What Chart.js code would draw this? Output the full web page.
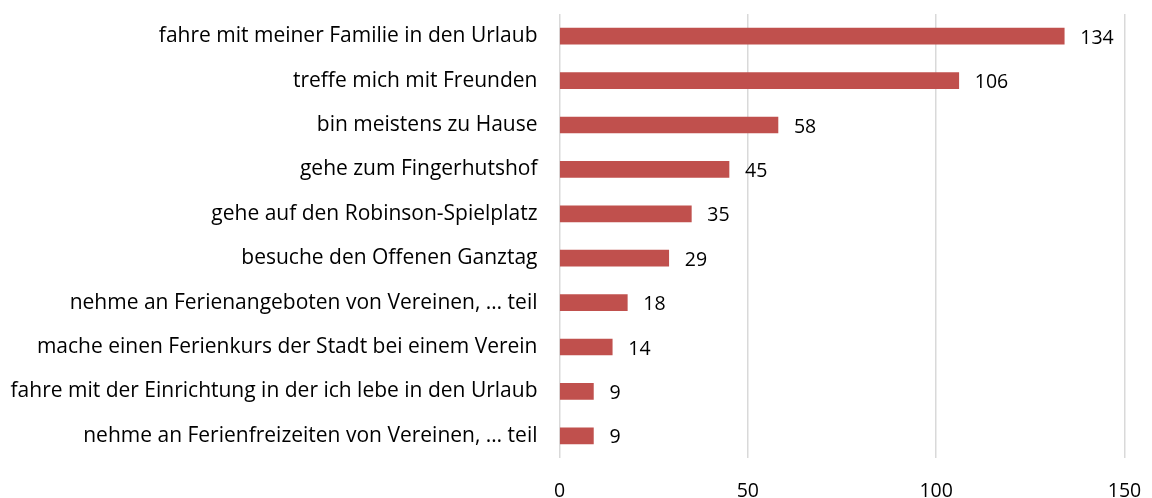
<!DOCTYPE html>
<html>
<head>
<meta charset="utf-8">
<script src="https://cdn.jsdelivr.net/npm/chart.js@4/dist/chart.umd.min.js"></script>
<style>
  html, body { margin: 0; padding: 0; background: #fff; }
  #wrap { width: 1152px; height: 498px; }
</style>
</head>
<body>
<div id="wrap"><canvas id="chart"></canvas></div>
<script>
// Antworten, sortiert nach Anzahl
const categories = [
    'fahre mit meiner Familie in den Urlaub',
    'treffe mich mit Freunden',
    'bin meistens zu Hause',
    'gehe zum Fingerhutshof',
    'gehe auf den Robinson-Spielplatz',
    'besuche den Offenen Ganztag',
    'nehme an Ferienangeboten von Vereinen, … teil',
    'mache einen Ferienkurs der Stadt bei einem Verein',
    'fahre mit der Einrichtung in der ich lebe in den Urlaub',
    'nehme an Ferienfreizeiten von Vereinen, … teil'
];
const counts = [134, 106, 58, 45, 35, 29, 18, 14, 9, 9];
const xTicks = [0, 50, 100, 150];

const fontFamily = '"Open Sans", Lato, sans-serif';

// writes the count next to the end of each bar
const valueLabels = {
    id: 'valueLabels',
    afterDatasetsDraw(chart) {
        const ctx = chart.ctx;
        const meta = chart.getDatasetMeta(0);
        ctx.save();
        ctx.font = '19.5px ' + fontFamily;
        ctx.fillStyle = '#000';
        ctx.textAlign = 'left';
        ctx.textBaseline = 'middle';
        meta.data.forEach((bar, i) => {
            ctx.fillText(String(counts[i]), bar.x + 16, bar.y + 2);
        });
        ctx.restore();
    }
};

new Chart(document.getElementById('chart'), {
    type: 'bar',
    data: {
        labels: categories,
        datasets: [{
            data: counts,
            backgroundColor: '#C0504D',
            barThickness: 16
        }]
    },
    plugins: [valueLabels],
    options: {
        indexAxis: 'y',
        responsive: true,
        maintainAspectRatio: false,
        animation: false,
        layout: { padding: { top: 14, right: 27.5, left: 0, bottom: 0 } },
        plugins: {
            legend: { display: false },
            tooltip: { enabled: false }
        },
        scales: {
            x: {
                min: 0,
                max: 150,
                afterBuildTicks(scale) {
                    scale.ticks = xTicks.map(v => ({ value: v }));
                },
                afterFit(scale) {
                    scale.height = 40;
                    scale.paddingLeft = 0;
                    scale.paddingRight = 0;
                },
                grid: { color: '#d9d9d9', lineWidth: 1.5, drawTicks: false },
                border: { display: false },
                ticks: {
                    padding: 22,
                    color: '#000',
                    font: { family: fontFamily, size: 19.5 }
                }
            },
            y: {
                afterFit(scale) {
                    scale.width = 559.5;
                    scale.paddingTop = 0;
                    scale.paddingBottom = 0;
                },
                grid: { display: false },
                border: { display: false },
                ticks: {
                    padding: 14,
                    color: '#000',
                    font: { family: fontFamily, size: 21 }
                }
            }
        }
    }
});
</script>
</body>
</html>
